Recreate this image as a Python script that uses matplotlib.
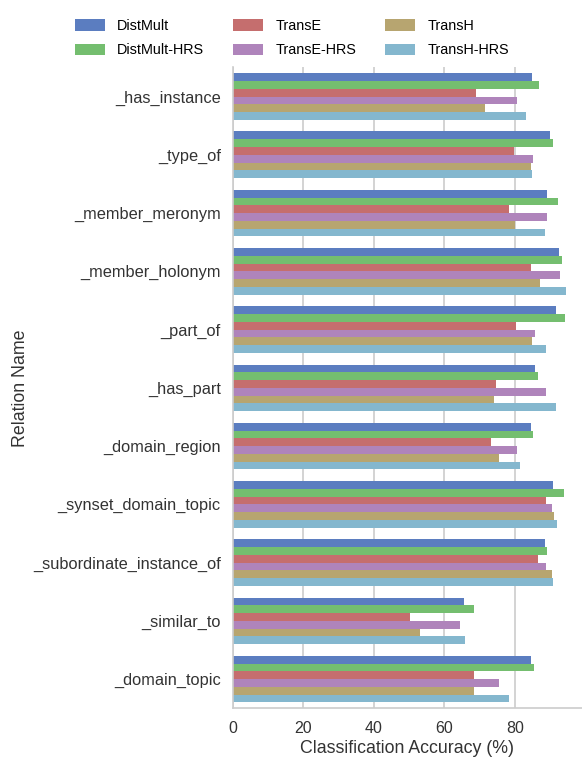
import matplotlib
matplotlib.use("Agg")
import matplotlib.pyplot as plt
import numpy as np

relations = ["_has_instance", "_type_of", "_member_meronym", "_member_holonym",
             "_part_of", "_has_part", "_domain_region", "_synset_domain_topic",
             "_subordinate_instance_of", "_similar_to", "_domain_topic"]

models = ["DistMult", "DistMult-HRS", "TransE", "TransE-HRS", "TransH", "TransH-HRS"]
colors = ["#5B7DC0", "#74BE6F", "#C56E6E", "#AF84BB", "#B7A570", "#84B7CE"]

distmult     = [84.7, 89.8, 89.2, 92.6, 91.5, 85.6, 84.4, 90.9, 88.4, 65.5, 84.4]
distmult_hrs = [86.7, 90.7, 92.1, 93.2, 94.1, 86.4, 85.0, 93.8, 89.2, 68.3, 85.3]
transe       = [68.9, 79.6, 78.2, 84.4, 80.2, 74.5, 73.1, 88.7, 86.4, 50.2, 68.3]
transe_hrs   = [80.5, 85.0, 89.2, 92.9, 85.8, 88.7, 80.5, 90.4, 88.7, 64.3, 75.4]
transh       = [71.4, 84.4, 79.9, 87.0, 84.7, 74.0, 75.4, 91.2, 90.4, 53.0, 68.3]
transh_hrs   = [83.0, 84.7, 88.4, 94.6, 88.7, 91.5, 81.3, 91.8, 90.7, 65.8, 78.2]

series = [distmult, distmult_hrs, transe, transe_hrs, transh, transh_hrs]

plt.rcParams['font.family'] = ['Liberation Sans', 'DejaVu Sans']

fig = plt.figure(figsize=(5.82, 7.58), dpi=100)
ax = fig.add_axes([0.400, 0.0656, 0.600, 0.8455])

n = len(models)
w = 0.8 / n
y = np.arange(len(relations))
for i, (vals, name, c) in enumerate(zip(series, models, colors)):
    ax.barh(y - 0.4 + w * (i + 0.5), vals, height=w, color=c, label=name, zorder=2)

ax.set_ylim(len(relations) - 0.5, -0.5)
ax.set_xlim(0, 99.0)
ax.set_yticks(y)
ax.set_yticklabels(relations, fontsize=11.8, color="#333333")
ax.set_xticks([0, 20, 40, 60, 80])
ax.tick_params(axis='x', labelsize=11.5, colors="#333333", length=0, pad=9)
ax.tick_params(axis='y', length=0, pad=8.6)
ax.set_xlabel("Classification Accuracy (%)", fontsize=12.8, color="#333333", labelpad=3)
ax.set_ylabel("Relation Name", fontsize=12.8, color="#333333", labelpad=3)

ax.grid(axis='x', color="#cccccc", linewidth=1.2, zorder=0)
ax.set_axisbelow(True)
for s in ["top", "right"]:
    ax.spines[s].set_visible(False)
for s in ["left", "bottom"]:
    ax.spines[s].set_color("#cccccc")
    ax.spines[s].set_linewidth(1.2)

fig.legend(loc="upper left", bbox_to_anchor=(0.107, 0.992), ncol=3, frameon=False,
           fontsize=10.4, handlelength=2.08, handleheight=0.83, columnspacing=2.0,
           labelspacing=0.7, handletextpad=0.83, borderpad=0.4)

fig.savefig("out.png", dpi=100)
